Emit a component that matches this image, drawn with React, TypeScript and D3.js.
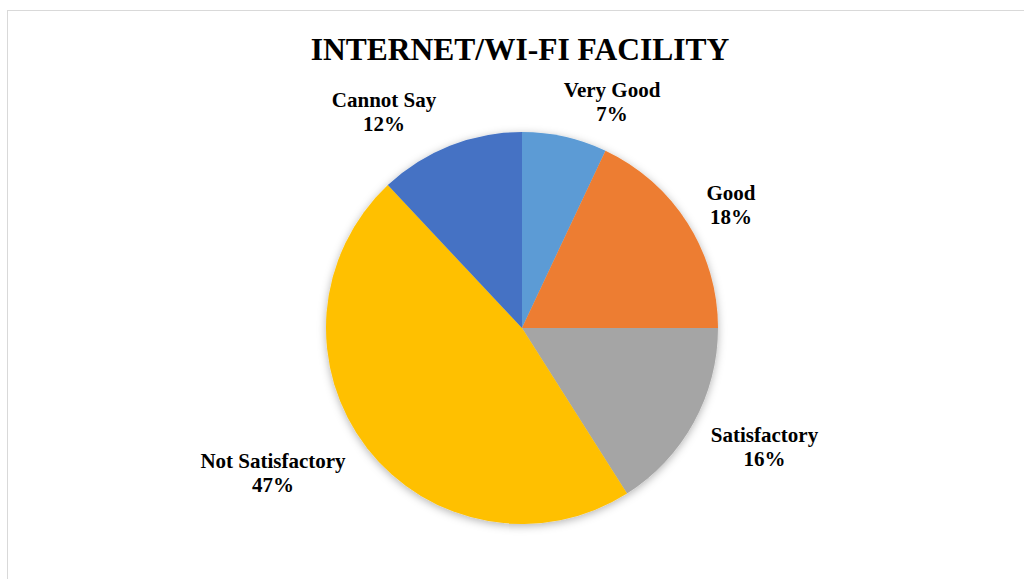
import React from "react";
import * as d3 from "d3";

const categories = ["Very Good", "Good", "Satisfactory", "Not Satisfactory", "Cannot Say"];
const values = [7, 18, 16, 47, 12];
const colors = ["#5B9BD5", "#ED7D31", "#A5A5A5", "#FFC000", "#4472C4"];
const title = "INTERNET/WI-FI FACILITY";

// layout
const W = 1024;
const H = 579;
const CX = 522;
const CY = 328;
const R = 196;
const LABEL_R = 245;
const labelNudges: [number, number][] = [
  [36.6, 8.4],
  [2.1, 3.3],
  [27.8, -4.3],
  [-55.4, -9.9],
  [-47.8, 7.1],
];

export default function App() {
  const data = categories.map((c, i) => ({ name: c, value: values[i], color: colors[i] }));
  const pie = d3.pie<any>().value((d: any) => d.value).sort(null);
  const arcs = pie(data);
  const arc = d3.arc<any>().innerRadius(0).outerRadius(R);
  const labelArc = d3.arc<any>().innerRadius(LABEL_R).outerRadius(LABEL_R);
  const total = d3.sum(values);
  const font = "'Liberation Serif', 'Times New Roman', serif";

  return (
    <svg
      width={W}
      height={H}
      style={{ position: "absolute", left: 0, top: 0, background: "#fff" }}
    >
      <defs>
        <filter id="pieShadow" x="-20%" y="-20%" width="140%" height="140%">
          <feDropShadow dx="0" dy="2" stdDeviation="4" floodColor="#000" floodOpacity="0.3" />
        </filter>
      </defs>
      <rect x={7.5} y={10.5} width={1100} height={700} fill="#fff" stroke="#d9d9d9" strokeWidth={1} />
      <text
        x={520}
        y={60}
        textAnchor="middle"
        fontFamily={font}
        fontWeight="bold"
        fontSize={31.5}
        fill="#000"
      >
        {title}
      </text>
      <g transform={`translate(${CX},${CY})`}>
        <g filter="url(#pieShadow)">
          {arcs.map((a, i) => (
            <path key={i} d={arc(a) as string} fill={a.data.color} />
          ))}
        </g>
        {arcs.map((a, i) => {
          const [x, y] = labelArc.centroid(a);
          const lx = x + labelNudges[i][0];
          const ly = y + labelNudges[i][1];
          const pct = Math.round((a.data.value / total) * 100) + "%";
          return (
            <text
              key={"l" + i}
              x={lx}
              y={ly}
              textAnchor="middle"
              fontFamily={font}
              fontWeight="bold"
              fontSize={21}
              fill="#000"
            >
              <tspan x={lx} dy={0}>{a.data.name}</tspan>
              <tspan x={lx} dy={24}>{pct}</tspan>
            </text>
          );
        })}
      </g>
    </svg>
  );
}
